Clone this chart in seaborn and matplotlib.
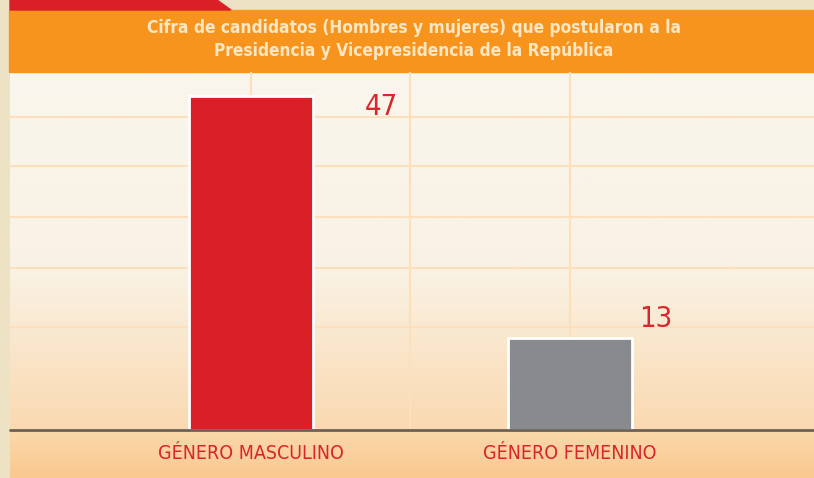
import numpy as np
import pandas as pd
import matplotlib
matplotlib.use("Agg")
import matplotlib.pyplot as plt
from matplotlib import font_manager as fm
from matplotlib.patches import Polygon, Rectangle
import seaborn as sns

# ---- data ----
categories = ["GÉNERO MASCULINO", "GÉNERO FEMENINO"]
values = [47, 13]
value_labels = ["47", "13"]
title_lines = ["Cifra de candidatos (Hombres y mujeres) que postularon a la",
               "Presidencia y Vicepresidencia de la República"]

# ---- styles ----
bar_colors = ["#da2027", "#898a8e"]
label_red = "#d9252c"
W, H = 814, 478

sns.set_theme(style="white")
names = {f.name for f in fm.fontManager.ttflist}
if "Liberation Sans Narrow" in names:
    COND = dict(family="Liberation Sans Narrow")
else:
    COND = dict(family="DejaVu Sans", stretch="condensed")

fig = plt.figure(figsize=(W / 100, H / 100), dpi=100)

# background axes in pixel coords
bg = fig.add_axes([0, 0, 1, 1], zorder=0)
bg.axis("off")
bg.add_patch(Rectangle((0, 0), W, H, color="#eee2c5", zorder=0))

# plot-area vertical gradient
ys = np.arange(72, H + 1)
stops_y = [72, 270, 430, 431, 478]
stops_c = [np.array(matplotlib.colors.to_rgb(c)) for c in
           ["#f9f6ed", "#f9f2e4", "#fad9b1", "#fbd8ab", "#f9c990"]]
grad = np.stack([np.interp(ys, stops_y, [c[k] for c in stops_c]) for k in range(3)], axis=-1)
grad = grad[:, None, :]
bg.imshow(grad, extent=(10, W, H, 72), aspect="auto", zorder=1, interpolation="bilinear")
bg.set_xlim(0, W)
bg.set_ylim(H, 0)

# title band and red tab
bg.add_patch(Rectangle((9, 10), W - 9, 62, color="#f7941e", zorder=2))
bg.add_patch(Polygon([(10, 0), (217, 0), (231, 10), (10, 10)], closed=True,
                     color="#da2027", zorder=2))
bg.text(414, 28, title_lines[0], ha="center", va="center", fontsize=12.4,
        fontweight="bold", color="#fbe7c4", zorder=3, **COND)
bg.text(414, 51, title_lines[1], ha="center", va="center", fontsize=12.4,
        fontweight="bold", color="#fbe7c4", zorder=3, **COND)

# main axes
ax = fig.add_axes([10 / W, (H - 430) / H, (W - 10) / W, (430 - 72) / H], zorder=1)
ax.patch.set_alpha(0)
df = pd.DataFrame({"cat": categories, "val": values})
sns.barplot(data=df, x="cat", y="val", hue="cat", palette=bar_colors,
            saturation=1, width=0.39, edgecolor="white", linewidth=2,
            legend=False, ax=ax, zorder=3)

ax.set_ylim(0, 50.4)
ax.set_xlim(-0.755, 1.765)
ax.set_yticks([7.2, 14.5, 22.8, 30.0, 37.2, 44.0])
ax.set_xticks([0, 1])
ax.set_xticks([0.5], minor=True)
ax.grid(True, which="both", color="#fddfbb", linewidth=1.5, zorder=0)
ax.set_axisbelow(True)
ax.tick_params(axis="y", left=False, labelleft=False)
ax.tick_params(axis="x", which="both", bottom=False, length=0, pad=10)
ax.set_xticklabels(categories, color=label_red, fontsize=14, **COND)
ax.set_xlabel("")
ax.set_ylabel("")
for s in ax.spines.values():
    s.set_visible(False)
ax.axhline(0, color="#6b6158", linewidth=2, zorder=5, clip_on=False)

# value labels
offsets = [(0.41, 0.5, "top"), (0.27, 0.6, "bottom")]
for i, (v, lab) in enumerate(zip(values, value_labels)):
    dx, dy, va = offsets[i]
    ax.text(i + dx, v + dy, lab, ha="center", va=va,
            color=label_red, fontsize=21, zorder=6, **COND)

fig.savefig("out.png", dpi=100)
